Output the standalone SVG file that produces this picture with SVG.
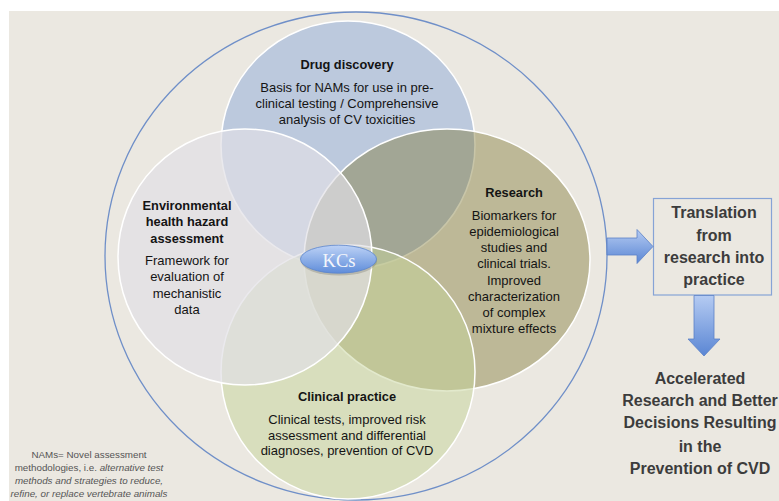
<svg xmlns="http://www.w3.org/2000/svg" width="779" height="501" viewBox="0 0 779 501">
<style>
.t{font-family:"Liberation Sans",Arial,sans-serif;fill:#141414;text-anchor:middle}
.h{font-weight:bold;font-size:12.8px}
.b{font-size:13px}
.r{font-family:"Liberation Sans",Arial,sans-serif;font-weight:bold;font-size:16px;fill:#3c3c3c;text-anchor:middle}
.n{font-family:"Liberation Sans",Arial,sans-serif;font-size:9.8px;fill:#555;text-anchor:middle}
.c{stroke:#fff;stroke-width:1.5}
</style>
<defs>
<linearGradient id="ag" x1="0" y1="0" x2="0" y2="1">
<stop offset="0" stop-color="#B5CBF2"/>
<stop offset="1" stop-color="#5A86D4"/>
</linearGradient>
<linearGradient id="kg" x1="0" y1="0" x2="0" y2="1">
<stop offset="0" stop-color="#BDD2F6"/>
<stop offset="1" stop-color="#5F8DDA"/>
</linearGradient>
</defs>
<rect x="0" y="0" width="779" height="501" fill="#fff"/>
<rect x="9" y="11" width="770" height="490" fill="#EBE8E1"/>
<ellipse id="outer" cx="356" cy="256" rx="251" ry="244" fill="none" stroke="#6F8FC8" stroke-width="1.3"/>

<g id="drug-discovery">
<ellipse class="c" cx="348" cy="145" rx="127" ry="124" fill="#BCC9DD"/>
<text class="t h" x="347" y="68.5">Drug discovery</text>
<text class="t b" x="347" y="91.5">Basis for NAMs for use in pre-</text>
<text class="t b" x="347" y="107.8">clinical testing / Comprehensive</text>
<text class="t b" x="347" y="123.8">analysis of CV toxicities</text>
</g>

<g id="research">
<ellipse class="c" cx="447" cy="260" rx="143" ry="131" fill="#7F7936" fill-opacity="0.43"/>
<text class="t h" x="514" y="196.8">Research</text>
<text class="t b" x="514" y="219.5">Biomarkers for</text>
<text class="t b" x="514" y="236.2">epidemiological</text>
<text class="t b" x="514" y="251.8">studies and</text>
<text class="t b" x="514" y="267.8">clinical trials.</text>
<text class="t b" x="514" y="284.5">Improved</text>
<text class="t b" x="514" y="301.2">characterization</text>
<text class="t b" x="514" y="317.2">of complex</text>
<text class="t b" x="514" y="332.8">mixture effects</text>
</g>

<g id="clinical-practice">
<ellipse class="c" cx="348" cy="372" rx="127" ry="127" fill="#C6D39A" fill-opacity="0.5"/>
<text class="t h" x="347" y="400.5">Clinical practice</text>
<text class="t b" x="347" y="423.8">Clinical tests, improved risk</text>
<text class="t b" x="347" y="439.5">assessment and differential</text>
<text class="t b" x="347" y="455.2">diagnoses, prevention of CVD</text>
</g>

<g id="environmental">
<ellipse class="c" cx="245" cy="257" rx="127" ry="128" fill="#E0DFE5" fill-opacity="0.69"/>
<text class="t h" x="187" y="209.5">Environmental</text>
<text class="t h" x="187" y="226.2">health hazard</text>
<text class="t h" x="187" y="242.8">assessment</text>
<text class="t b" x="187" y="264.5">Framework for</text>
<text class="t b" x="187" y="281.2">evaluation of</text>
<text class="t b" x="187" y="297.8">mechanistic</text>
<text class="t b" x="187" y="313.8">data</text>
</g>

<g id="kcs">
<ellipse cx="339" cy="261.5" rx="38" ry="14" fill="#7A7A70" fill-opacity="0.35"/>
<ellipse cx="338.5" cy="259.2" rx="38" ry="14" fill="url(#kg)" stroke="#5A84CC" stroke-width="0.8"/>
<text x="339" y="266.5" font-family="'Liberation Serif','Times New Roman',serif" font-size="18.5" fill="#F4F6FB" text-anchor="middle">KCs</text>
</g>

<g id="translation">
<rect x="653.5" y="198.5" width="118" height="96.5" fill="none" stroke="#86A3D6" stroke-width="1.2"/>
<text class="r" x="714" y="218">Translation</text>
<text class="r" x="714" y="240.7">from</text>
<text class="r" x="714" y="263">research into</text>
<text class="r" x="714" y="285">practice</text>
</g>

<g id="outcome">
<text class="r" x="700" y="384">Accelerated</text>
<text class="r" x="700" y="405.7">Research and Better</text>
<text class="r" x="700" y="428.4">Decisions Resulting</text>
<text class="r" x="700" y="451.7">in the</text>
<text class="r" x="700" y="474">Prevention of CVD</text>
</g>

<g id="connectors">
<polygon points="607,238 637,238 637,229.5 653,246.5 637,263.5 637,255 607,255" fill="url(#ag)" stroke="#5C82C6" stroke-width="0.8"/>
<polygon points="694,295.5 714,295.5 714,339 720,339 704,356 688,339 694,339" fill="url(#ag)" stroke="#5C82C6" stroke-width="0.8"/>
</g>

<g id="note">
<text class="n" x="89" y="458.2">NAMs= Novel assessment</text>
<text class="n" x="89" y="471.2">methodologies, i.e. <tspan font-style="italic">alternative test</tspan></text>
<text class="n" x="89" y="484.2" font-style="italic">methods and strategies to reduce,</text>
<text class="n" x="89" y="496.8" font-style="italic">refine, or replace vertebrate animals</text>
</g>
</svg>
